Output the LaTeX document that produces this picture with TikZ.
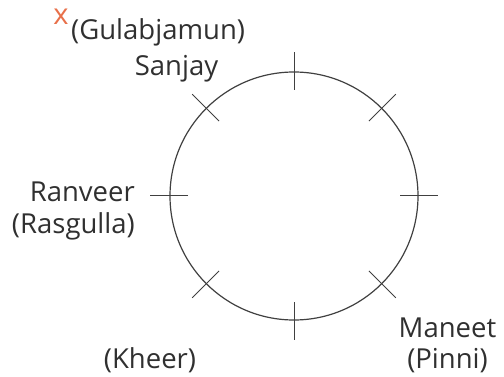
\documentclass[tikz,border=0pt]{standalone}
\usepackage{fontspec}
\setmainfont{Open Sans}
\usepackage{xcolor}
\usepackage{tikz}
\usetikzlibrary{positioning, calc}
\definecolor{inkgray}{HTML}{303030}
\definecolor{ringgray}{HTML}{404040}
\definecolor{crossorange}{HTML}{E8704A}
\tikzstyle{person} = [inner sep=0pt, text=inkgray, font=\fontsize{27.5}{32}\selectfont]
\tikzstyle{sweet} = [person]
\tikzstyle{seatmark} = [draw=ringgray, line width=1pt]
\tikzstyle{ring} = [draw=ringgray, line width=1.2pt]

\begin{document}
\begin{tikzpicture}[x=1pt, y=-1pt]
        \useasboundingbox (0,0) rectangle (504,377);
        % Table
        \coordinate (c) at (294,196);
        \draw [ring] (c) circle [radius=124pt];
        \foreach \a in {0,45,...,315}
            \draw [seatmark] ($(c)+(\a:106pt)$) -- ($(c)+(\a:144pt)$);

        % Names
        \node [person, anchor=base] (sanjay) at (176.5,76) {Sanjay};
        \node [person, anchor=base east] (ranveer) at (135,202) {Ranveer};
        \node [person, anchor=base] (maneet) at (447.5,337) {Maneet};

        % Sweets
        \node [sweet, anchor=base west] (gulabjamun) at (71,40) {(Gulabjamun)};
        \node [sweet, anchor=base east] (rasgulla) at ([yshift=-32pt]ranveer.base east) {(Rasgulla)};
        \node [sweet, anchor=base] (pinni) at ([yshift=-31pt]maneet.base) {(Pinni)};
        \node [sweet, anchor=base] (kheer) at (150,368) {(Kheer)};

        % Mark
        \node [inner sep=0pt, text=crossorange, font=\fontsize{29}{32}\selectfont, anchor=base] (cross) at (61,25) {x};
    \end{tikzpicture}
\end{document}
